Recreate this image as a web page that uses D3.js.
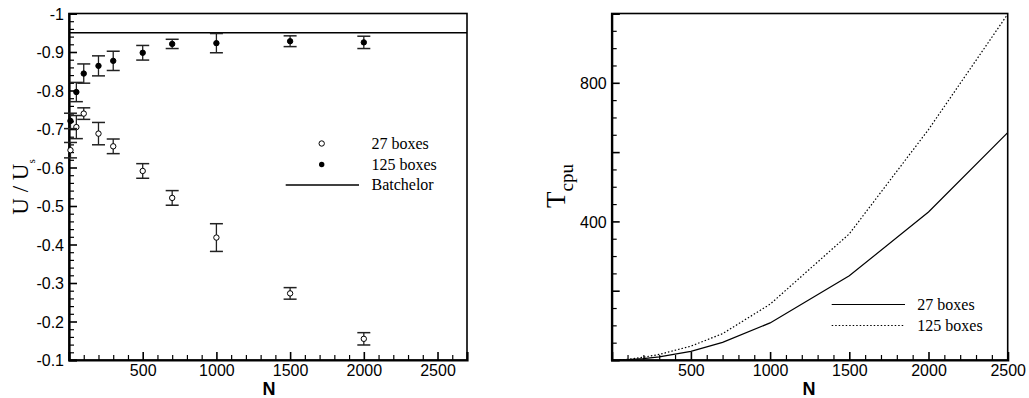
<!DOCTYPE html>
<html>
<head>
<meta charset="utf-8">
<script src="https://cdn.jsdelivr.net/npm/d3@7"></script>
<style>
  html, body { margin: 0; padding: 0; background: #fff; }
  svg { display: block; }
  .tick text { font-family: "Liberation Sans", Arial, sans-serif; font-size: 16px; fill: #000; }
</style>
</head>
<body>
<svg id="chart" width="1029" height="398"></svg>
<script>
// ---------- Data ----------
const nLeft = [10, 50, 100, 200, 300, 500, 700, 1000, 1500, 2000];
const u27 = [-0.645, -0.705, -0.740, -0.688, -0.655, -0.591, -0.521, -0.418, -0.273, -0.155];
const err27 = [0.02, 0.03, 0.015, 0.029, 0.019, 0.019, 0.019, 0.036, 0.015, 0.016];
const u125 = [-0.721, -0.796, -0.844, -0.864, -0.877, -0.898, -0.921, -0.923, -0.928, -0.925];
const err125 = [0.02, 0.025, 0.025, 0.026, 0.025, 0.019, 0.012, 0.025, 0.014, 0.016];
const batchelor = -0.95;

const nRight = [50, 100, 200, 300, 500, 700, 1000, 1500, 2000, 2500];
const tcpu27 = [0.3, 1, 4, 9, 25, 51, 107, 243, 427, 656];
const tcpu125 = [0.5, 2, 8, 16, 40, 76, 161, 364, 665, 998];

const leftXTicks = [500, 1000, 1500, 2000, 2500];
const leftYTicks = [-1, -0.9, -0.8, -0.7, -0.6, -0.5, -0.4, -0.3, -0.2, -0.1];
const rightXTicks = [500, 1000, 1500, 2000, 2500];
const rightYTicks = [200, 400, 600, 800, 1000];
const rightYLabels = [400, 800];
const legendLeft = ["27 boxes", "125 boxes", "Batchelor"];
const legendRight = ["27 boxes", "125 boxes"];

// ---------- Setup ----------
const svg = d3.select("#chart");
const sans = '"Liberation Sans", Arial, sans-serif';
const serif = '"Liberation Serif", "Times New Roman", serif';

// ================= LEFT CHART =================
const L = { left: 69, right: 467, top: 13.5, bottom: 360 };
const xL = d3.scaleLinear().domain([0, 2700]).range([L.left, L.right]);
const yL = d3.scaleLinear().domain([-0.1, -1]).range([L.bottom, L.top]);

const gL = svg.append("g");

// frame
gL.append("rect").attr("x", L.left).attr("y", L.top)
  .attr("width", L.right - L.left).attr("height", L.bottom - L.top)
  .attr("fill", "none").attr("stroke", "#000").attr("stroke-width", 1.6);

// minor ticks
const xMinorL = d3.range(100, 2700, 100).filter(v => v % 500 !== 0);
gL.append("g").attr("transform", `translate(0,${L.bottom})`)
  .call(d3.axisBottom(xL).tickValues(xMinorL).tickSize(-5).tickFormat(""))
  .call(g => g.select(".domain").remove())
  .selectAll("line").attr("stroke", "#000").attr("stroke-width", 1.2);
const yMinorL = d3.range(-0.98, -0.1, 0.02).map(v => +v.toFixed(2)).filter(v => Math.abs(Math.round(v * 10) - v * 10) > 0.01);
gL.append("g").attr("transform", `translate(${L.left},0)`)
  .call(d3.axisLeft(yL).tickValues(yMinorL).tickSize(-5).tickFormat(""))
  .call(g => g.select(".domain").remove())
  .selectAll("line").attr("stroke", "#000").attr("stroke-width", 1.2);

// major axes
const axXL = gL.append("g").attr("transform", `translate(0,${L.bottom})`)
  .call(d3.axisBottom(xL).tickValues(leftXTicks).tickSize(-8).tickPadding(5).tickFormat(d3.format("d")));
axXL.select(".domain").attr("stroke-width", 2.2);
axXL.selectAll(".tick line").attr("stroke-width", 1.6);
const axYL = gL.append("g").attr("transform", `translate(${L.left},0)`)
  .call(d3.axisLeft(yL).tickValues(leftYTicks).tickSize(-8).tickPadding(5)
    .tickFormat(d => d === -1 ? "-1" : d.toFixed(1)));
axYL.select(".domain").attr("stroke-width", 2.2);
axYL.selectAll(".tick line").attr("stroke-width", 1.6);
axYL.selectAll(".tick text").attr("dy", "0.36em");

// Batchelor line
gL.append("line").attr("x1", L.left).attr("x2", L.right)
  .attr("y1", yL(batchelor)).attr("y2", yL(batchelor))
  .attr("stroke", "#000").attr("stroke-width", 1.3);

// error bars + points
function drawSeries(vals, errs, filled) {
  const data = nLeft.map((n, i) => ({ n, v: vals[i], e: errs[i] }));
  const g = gL.append("g");
  const cap = 6.5;
  data.forEach(d => {
    const x = xL(d.n), y1 = yL(d.v - d.e), y2 = yL(d.v + d.e);
    g.append("line").attr("x1", x).attr("x2", x).attr("y1", y1).attr("y2", y2)
      .attr("stroke", "#222").attr("stroke-width", 1.3);
    [y1, y2].forEach(yy => g.append("line").attr("x1", x - cap).attr("x2", x + cap)
      .attr("y1", yy).attr("y2", yy).attr("stroke", "#222").attr("stroke-width", 1.5));
  });
  g.selectAll("circle").data(data).join("circle")
    .attr("cx", d => xL(d.n)).attr("cy", d => yL(d.v)).attr("r", 2.7)
    .attr("fill", filled ? "#000" : "#fff").attr("stroke", "#000").attr("stroke-width", 1);
}
drawSeries(u27, err27, false);
drawSeries(u125, err125, true);

// legend left
const lgL = gL.append("g");
const lgTextX = 371.5;
const lgRows = [143.5, 164.5, 185];
lgL.append("circle").attr("cx", 321.7).attr("cy", lgRows[0]).attr("r", 2.7)
  .attr("fill", "#fff").attr("stroke", "#000").attr("stroke-width", 1);
lgL.append("circle").attr("cx", 321.7).attr("cy", lgRows[1]).attr("r", 2.7).attr("fill", "#000");
lgL.append("line").attr("x1", 285.7).attr("x2", 359).attr("y1", lgRows[2]).attr("y2", lgRows[2])
  .attr("stroke", "#000").attr("stroke-width", 1.3);
legendLeft.forEach((t, i) => lgL.append("text").attr("x", lgTextX).attr("y", lgRows[i] + 5)
  .attr("font-family", serif).attr("font-size", 16).text(t));

// axis titles left
gL.append("text").attr("x", 269).attr("y", 395).attr("text-anchor", "middle")
  .attr("font-family", sans).attr("font-weight", "bold").attr("font-size", 18).text("N");
const ulab = gL.append("text").attr("transform", "translate(28,187) rotate(-90)")
  .attr("text-anchor", "middle").attr("font-family", serif).attr("font-size", 23);
ulab.append("tspan").text("U / U");
ulab.append("tspan").attr("font-size", 11).attr("dy", 7).text("s");

// ================= RIGHT CHART =================
const R = { left: 611.7, right: 1007.7, top: 13.5, bottom: 360 };
const xR = d3.scaleLinear().domain([0, 2500]).range([R.left, R.right]);
const yR = d3.scaleLinear().domain([0, 1000]).range([R.bottom, R.top]);
const gR = svg.append("g");

gR.append("rect").attr("x", R.left).attr("y", R.top)
  .attr("width", R.right - R.left).attr("height", R.bottom - R.top)
  .attr("fill", "none").attr("stroke", "#000").attr("stroke-width", 1.6);

const xMinorR = d3.range(100, 2500, 100).filter(v => v % 500 !== 0);
gR.append("g").attr("transform", `translate(0,${R.bottom})`)
  .call(d3.axisBottom(xR).tickValues(xMinorR).tickSize(-5).tickFormat(""))
  .call(g => g.select(".domain").remove())
  .selectAll("line").attr("stroke", "#000").attr("stroke-width", 1.2);
const yMinorR = d3.range(50, 1000, 50).filter(v => v % 200 !== 0);
gR.append("g").attr("transform", `translate(${R.left},0)`)
  .call(d3.axisLeft(yR).tickValues(yMinorR).tickSize(-5).tickFormat(""))
  .call(g => g.select(".domain").remove())
  .selectAll("line").attr("stroke", "#000").attr("stroke-width", 1.2);

const axXR = gR.append("g").attr("transform", `translate(0,${R.bottom})`)
  .call(d3.axisBottom(xR).tickValues(rightXTicks).tickSize(-8).tickPadding(5).tickFormat(d3.format("d")));
axXR.select(".domain").attr("stroke-width", 2.2);
axXR.selectAll(".tick line").attr("stroke-width", 1.6);
const axYR = gR.append("g").attr("transform", `translate(${R.left},0)`)
  .call(d3.axisLeft(yR).tickValues(rightYTicks).tickSize(-8).tickPadding(5)
    .tickFormat(d => rightYLabels.includes(d) ? d3.format("d")(d) : ""));
axYR.select(".domain").attr("stroke-width", 2.2);
axYR.selectAll(".tick line").attr("stroke-width", 1.6);
axYR.selectAll(".tick text").attr("dy", "0.36em");

const line = d3.line().x(d => xR(d[0])).y(d => yR(d[1]));
gR.append("path").datum(nRight.map((n, i) => [n, tcpu27[i]])).attr("d", line)
  .attr("fill", "none").attr("stroke", "#000").attr("stroke-width", 1.2);
gR.append("path").datum(nRight.map((n, i) => [n, tcpu125[i]])).attr("d", line)
  .attr("fill", "none").attr("stroke", "#000").attr("stroke-width", 1.2).attr("stroke-dasharray", "1.5,2");

// legend right
const lgR = gR.append("g");
const rRows = [304.5, 325.5];
lgR.append("line").attr("x1", 831.7).attr("x2", 905).attr("y1", rRows[0]).attr("y2", rRows[0])
  .attr("stroke", "#000").attr("stroke-width", 1.2);
lgR.append("line").attr("x1", 831.7).attr("x2", 905).attr("y1", rRows[1]).attr("y2", rRows[1])
  .attr("stroke", "#000").attr("stroke-width", 1.2).attr("stroke-dasharray", "1.5,2");
legendRight.forEach((t, i) => lgR.append("text").attr("x", 917.3).attr("y", rRows[i] + 5)
  .attr("font-family", serif).attr("font-size", 16).text(t));

gR.append("text").attr("x", 809).attr("y", 395).attr("text-anchor", "middle")
  .attr("font-family", sans).attr("font-weight", "bold").attr("font-size", 18).text("N");
const tlab = gR.append("text").attr("transform", "translate(565,186) rotate(-90)")
  .attr("text-anchor", "middle").attr("font-family", serif).attr("font-size", 27);
tlab.append("tspan").text("T");
tlab.append("tspan").attr("font-size", 19).attr("dy", 8).text("cpu");
</script>
</body>
</html>
